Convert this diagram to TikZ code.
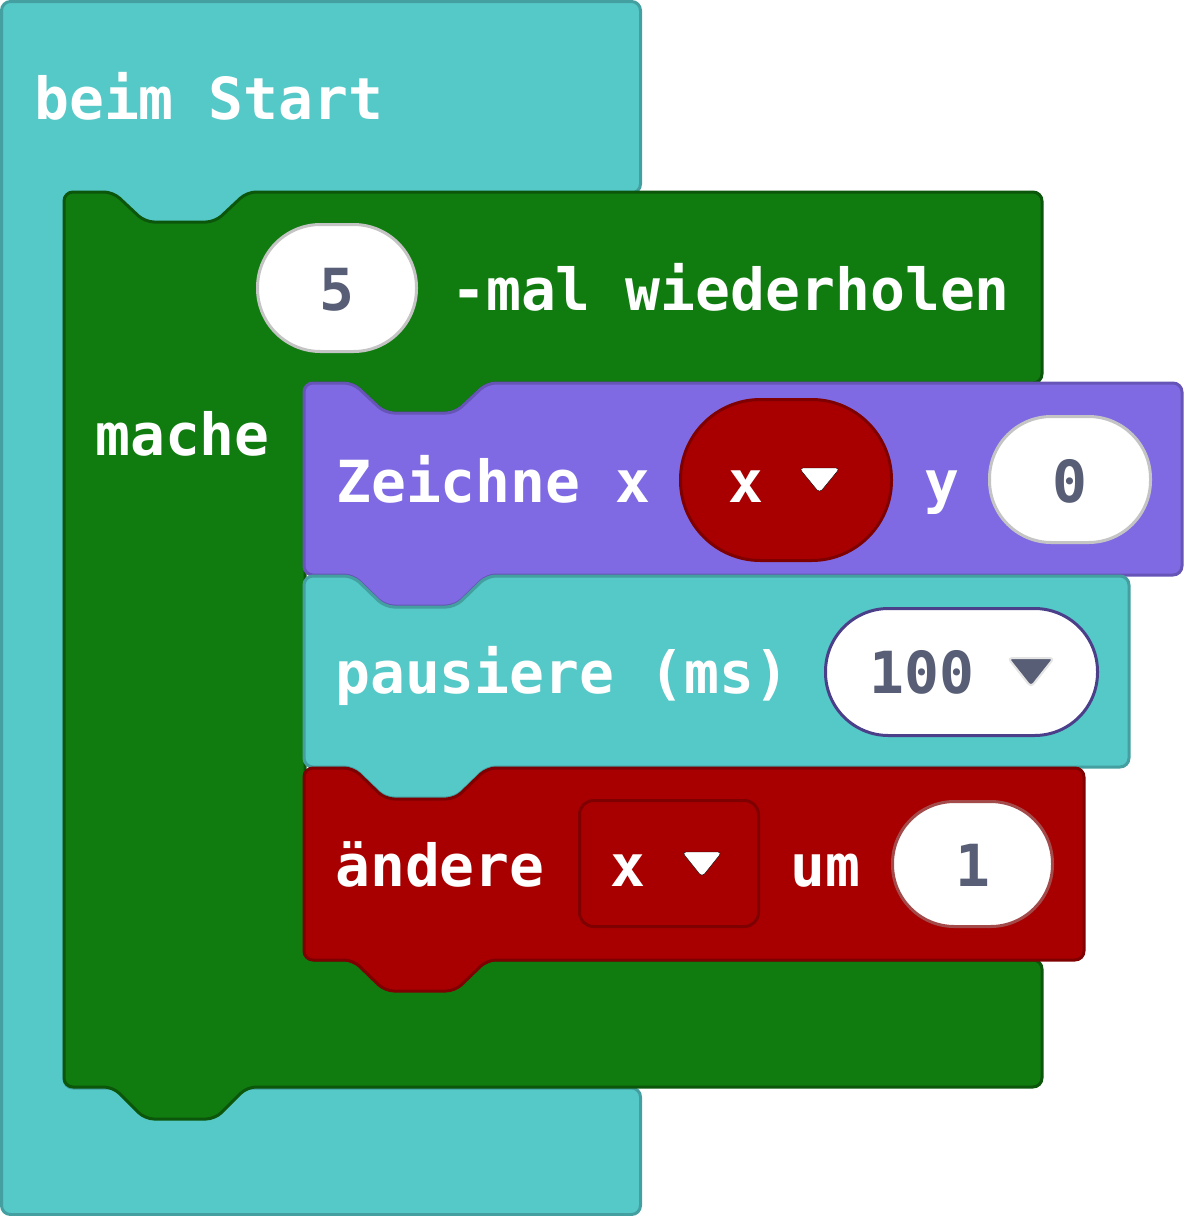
\documentclass[tikz,border=0pt]{standalone}
\usepackage{fontspec}
\newfontfamily\blk{DejaVu Sans Mono}
\definecolor{cyanF}{HTML}{55C8C8}
\definecolor{cyanS}{HTML}{44A0A0}
\definecolor{greenF}{HTML}{107C10}
\definecolor{greenS}{HTML}{0B560B}
\definecolor{purpF}{HTML}{806AE4}
\definecolor{purpS}{HTML}{6654B6}
\definecolor{redF}{HTML}{A80000}
\definecolor{redS}{HTML}{7E0000}
\definecolor{ovalS}{HTML}{C4C4C4}
\definecolor{ovalP}{HTML}{4C3F8A}
\definecolor{ovalR}{HTML}{A34A4A}
\definecolor{fieldT}{HTML}{575E75}
\definecolor{triS}{HTML}{E4E4E4}
\tikzset{
  blockpath/.style={line width=3pt, rounded corners=9pt, line join=round},
  lbl/.style={inner sep=0pt, anchor=base west, text=white, font=\blk\bfseries\fontsize{58}{60}\selectfont},
  fieldtxt/.style={inner sep=0pt, anchor=base, text=fieldT, font=\blk\bfseries\fontsize{58}{60}\selectfont},
  vartxt/.style={inner sep=0pt, anchor=base, text=white, font=\blk\bfseries\fontsize{58}{60}\selectfont},
  oval/.style={draw, line width=3pt, fill=white, inner sep=0pt, outer sep=0pt},
  tri/.style={rounded corners=4pt, line join=round}
}
\begin{document}
\begin{tikzpicture}[x=1pt,y=-1pt]
\useasboundingbox (0,0) rectangle (1184,1216);
% beim Start (cyan C)
\draw[blockpath, fill=cyanF, draw=cyanS] (1.5,1.5) -- (640.5,1.5) -- (640.5,193) -- (64,193) -- (64,1088) -- (640.5,1088) -- (640.5,1214.5) -- (1.5,1214.5) -- cycle;
\fill[cyanF] (60,185) rectangle (270,240);
% repeat block (green C)
\draw[blockpath, fill=greenF, draw=greenS] (64,192) -- (113,192) -- (145,222) -- (215,222) -- (247,192) -- (1042,192) -- (1042,383) -- (487,383) -- (455,413) -- (385,413) -- (353,383) -- (305,383) -- (305,960) -- (1042,960) -- (1042,1087) -- (247,1087) -- (215,1119) -- (145,1119) -- (113,1087) -- (64,1087) -- cycle;
% Zeichne (purple)
\draw[blockpath, fill=purpF, draw=purpS] (304,383) -- (353,383) -- (385,413) -- (455,413) -- (487,383) -- (1182,383) -- (1182,575) -- (487,575) -- (455,606) -- (385,606) -- (353,575) -- (304,575) -- cycle;
% pausiere (cyan)
\draw[blockpath, fill=cyanF, draw=cyanS] (304,576) -- (353,576) -- (385,607) -- (455,607) -- (487,576) -- (1129,576) -- (1129,767) -- (487,767) -- (455,798) -- (385,798) -- (353,767) -- (304,767) -- cycle;
% aendere (red)
\draw[blockpath, fill=redF, draw=redS] (304,768) -- (353,768) -- (385,799) -- (455,799) -- (487,768) -- (1084,768) -- (1084,960) -- (487,960) -- (455,991) -- (385,991) -- (353,960) -- (304,960) -- cycle;

% labels
\node[lbl] (start) at (34,119) {beim Start};
\node[oval, draw=ovalS, minimum width=159pt, minimum height=127pt, rounded corners=63pt] (n5) at (337,288) {};
\node[fieldtxt] (t5) at (337,310) {5};
\node[lbl] (mal) at (451,310) {-mal wiederholen};
\node[lbl] (mache) at (95,455) {mache};

\node[lbl] (zeichne) at (336,502) {Zeichne x};
\node[draw=redS, fill=redF, line width=3pt, inner sep=0pt, minimum width=211pt, minimum height=161pt, rounded corners=80pt] (varx) at (786,480) {};
\node[vartxt] (varxt) at (746,502) {x};
\draw[tri, fill=white] (799,468) -- (840,468) -- (819.5,493) -- cycle;
\node[lbl] (ylab) at (924,502) {y};
\node[oval, draw=ovalS, minimum width=161pt, minimum height=126pt, rounded corners=62pt] (n0) at (1070,479.5) {};
\node[fieldtxt] (t0) at (1070,502) {0};

\node[lbl] (pause) at (335,693) {pausiere (ms)};
\node[oval, draw=ovalP, minimum width=272pt, minimum height=127pt, rounded corners=63pt] (n100) at (961.5,672) {};
\node[fieldtxt] (t100) at (922,693) {100};
\draw[tri, fill=fieldT, draw=triS, line width=2pt] (1008,658) -- (1054,658) -- (1031,687) -- cycle;

\node[lbl] (aendere) at (335,886) {ändere};
\node[draw=redS, fill=redF, line width=3pt, inner sep=0pt, minimum width=179pt, minimum height=126pt, rounded corners=14pt] (varx2) at (669,863.5) {};
\node[vartxt] (varx2t) at (628,886) {x};
\draw[tri, fill=white] (682,852) -- (722,852) -- (702,877) -- cycle;
\node[lbl] (um) at (790,886) {um};
\node[oval, draw=ovalR, minimum width=160pt, minimum height=125pt, rounded corners=62pt] (n1) at (972.5,864) {};
\node[fieldtxt] (t1) at (972.5,886) {1};
\end{tikzpicture}
\end{document}
